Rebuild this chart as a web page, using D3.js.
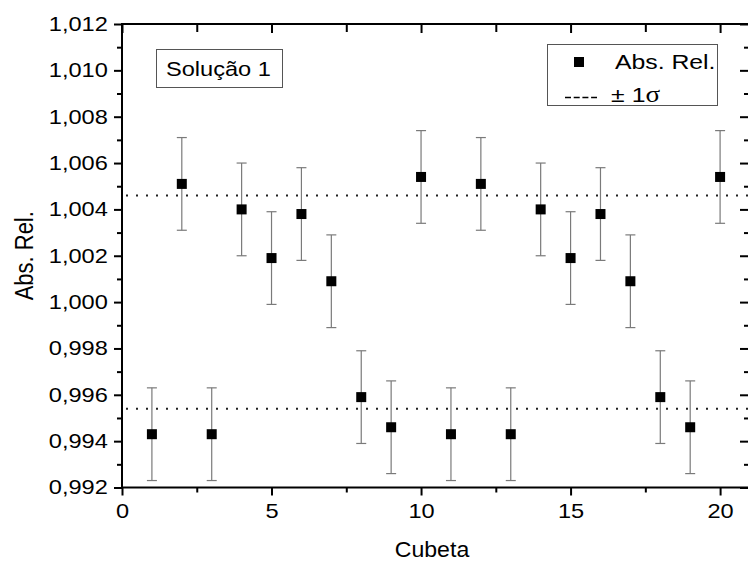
<!DOCTYPE html>
<html>
<head>
<meta charset="utf-8">
<script src="https://cdn.jsdelivr.net/npm/d3@7"></script>
<style>
  html, body { margin: 0; padding: 0; background: #fff; }
  svg { display: block; font-family: "Liberation Sans", Arial, sans-serif; }
</style>
</head>
<body>
<svg id="chart" width="748" height="565"></svg>
<script>
// Relative absorbance per cuvette (Solução 1)
const cubeta = [1, 2, 3, 4, 5, 6, 7, 8, 9, 10, 11, 12, 13, 14, 15, 16, 17, 18, 19, 20];
const absRel = [0.9943, 1.0051, 0.9943, 1.0040, 1.0019, 1.0038, 1.0009, 0.9959, 0.9946, 1.0054,
                0.9943, 1.0051, 0.9943, 1.0040, 1.0019, 1.0038, 1.0009, 0.9959, 0.9946, 1.0054];
const erro   = [0.002, 0.002, 0.002, 0.002, 0.002, 0.002, 0.002, 0.002, 0.002, 0.002,
                0.002, 0.002, 0.002, 0.002, 0.002, 0.002, 0.002, 0.002, 0.002, 0.002];
// ±1σ limits
const sigmaLines = [1.0046, 0.9954];
const xTicks = [0, 5, 10, 15, 20];
const yTicks = [0.992, 0.994, 0.996, 0.998, 1.000, 1.002, 1.004, 1.006, 1.008, 1.010, 1.012];

const svg = d3.select("#chart");
const L = 122, R = 750, T = 24, B = 487.5;
const SX = 1.18; // horizontal stretch of the lettering

const x = d3.scaleLinear().domain([0, 21]).range([L, R]);
const y = d3.scaleLinear().domain([0.992, 1.012]).range([B, T]);

const fmtY = v => d3.format(".3f")(v).replace(".", ",");
const xMinor = d3.range(2.5, 21, 5);
const yMinor = d3.range(0.993, 1.012, 0.002);

function styleAxis(g) {
  g.select(".domain").remove();
  g.selectAll(".tick line").attr("stroke", "#000").attr("stroke-width", 2);
  g.selectAll("text").attr("font-size", 20).attr("fill", "#000")
    .attr("font-family", "'Liberation Sans', Arial, sans-serif")
    .attr("transform", `scale(${SX},1)`);
}

// Bottom axis (outward ticks, labels)
svg.append("g").attr("transform", `translate(0,${B})`)
  .call(d3.axisBottom(x).tickValues(xTicks).tickSize(8).tickPadding(8).tickFormat(d3.format("d")))
  .call(styleAxis);
svg.append("g").attr("transform", `translate(0,${B})`)
  .call(d3.axisBottom(x).tickValues(xMinor).tickSize(5).tickFormat(""))
  .call(styleAxis);

// Left axis
svg.append("g").attr("transform", `translate(${L},0)`)
  .call(d3.axisLeft(y).tickValues(yTicks).tickSize(8).tickPadding(4).tickFormat(fmtY))
  .call(styleAxis);
svg.append("g").attr("transform", `translate(${L},0)`)
  .call(d3.axisLeft(y).tickValues(yMinor).tickSize(5).tickFormat(""))
  .call(styleAxis);

// Top axis (inward ticks)
svg.append("g").attr("transform", `translate(0,${T})`)
  .call(d3.axisTop(x).tickValues(xTicks).tickSize(-9).tickFormat(""))
  .call(styleAxis);
svg.append("g").attr("transform", `translate(0,${T})`)
  .call(d3.axisTop(x).tickValues(xMinor).tickSize(-8).tickFormat(""))
  .call(styleAxis);

// Right axis (inward ticks)
svg.append("g").attr("transform", `translate(${R},0)`)
  .call(d3.axisRight(y).tickValues(yTicks).tickSize(-10).tickFormat(""))
  .call(styleAxis);
svg.append("g").attr("transform", `translate(${R},0)`)
  .call(d3.axisRight(y).tickValues(yMinor).tickSize(-6).tickFormat(""))
  .call(styleAxis);

// Frame
svg.append("rect").attr("x", L).attr("y", T).attr("width", R - L).attr("height", B - T)
  .attr("fill", "none").attr("stroke", "#000").attr("stroke-width", 2);

// ±1σ dotted lines
svg.append("g").selectAll("line").data(sigmaLines).join("line")
  .attr("x1", L + 4).attr("x2", R)
  .attr("y1", d => y(d)).attr("y2", d => y(d))
  .attr("stroke", "#222").attr("stroke-width", 2).attr("stroke-dasharray", "2 8");

// Error bars
const pts = cubeta.map((c, i) => ({ c, v: absRel[i], e: erro[i] }));
const eb = svg.append("g").attr("stroke", "#7a7a7a").attr("stroke-width", 1.2);
eb.selectAll("line.v").data(pts).join("line").attr("class", "v")
  .attr("x1", d => x(d.c)).attr("x2", d => x(d.c))
  .attr("y1", d => y(d.v + d.e)).attr("y2", d => y(d.v - d.e));
eb.selectAll("line.t").data(pts).join("line").attr("class", "t")
  .attr("x1", d => x(d.c) - 5).attr("x2", d => x(d.c) + 5)
  .attr("y1", d => y(d.v + d.e)).attr("y2", d => y(d.v + d.e));
eb.selectAll("line.b").data(pts).join("line").attr("class", "b")
  .attr("x1", d => x(d.c) - 5).attr("x2", d => x(d.c) + 5)
  .attr("y1", d => y(d.v - d.e)).attr("y2", d => y(d.v - d.e));

// Data squares
const S = 10;
svg.append("g").selectAll("rect").data(pts).join("rect")
  .attr("x", d => x(d.c) - S / 2).attr("y", d => y(d.v) - S / 2)
  .attr("width", S).attr("height", S).attr("fill", "#000");

// Stretched label helper
function label(px, py, size, sx) {
  return svg.append("text")
    .attr("transform", `translate(${px},${py}) scale(${sx},1)`)
    .attr("font-size", size).attr("fill", "#000");
}

// Axis titles
label(432, 557, 22, 1.05).attr("text-anchor", "middle").text("Cubeta");
svg.append("text").attr("transform", `translate(33,${(T + B) / 2}) rotate(-90) scale(1,${SX})`)
  .attr("text-anchor", "middle").attr("font-size", 22).text("Abs. Rel.");

// Title box
svg.append("rect").attr("x", 156.5).attr("y", 49.5).attr("width", 126).attr("height", 38)
  .attr("fill", "#fff").attr("stroke", "#555").attr("stroke-width", 1);
label(166, 76, 20, SX).text("Solução 1");

// Legend
const lg = svg.append("g");
lg.append("rect").attr("x", 547.5).attr("y", 44.5).attr("width", 170).attr("height", 61)
  .attr("fill", "#fff").attr("stroke", "#555").attr("stroke-width", 1);
lg.append("rect").attr("x", 574).attr("y", 57).attr("width", 10).attr("height", 10).attr("fill", "#000");
label(615, 69, 21, SX).text("Abs. Rel.");
lg.append("line").attr("x1", 565).attr("x2", 597).attr("y1", 97.5).attr("y2", 97.5)
  .attr("stroke", "#000").attr("stroke-width", 1.5).attr("stroke-dasharray", "6 2.7");
const sig = label(611, 102, 21, SX);
sig.append("tspan").text("±");
sig.append("tspan").attr("dx", 6).text("1");
sig.append("tspan").attr("font-family", "'Liberation Serif', 'Times New Roman', serif")
  .attr("font-size", 23).text("σ");
</script>
</body>
</html>
